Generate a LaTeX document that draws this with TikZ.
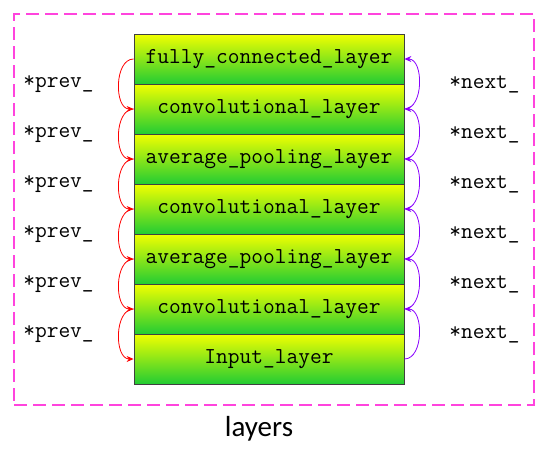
\documentclass[tikz,border=0pt]{standalone}
\usepackage{fontspec}
\setmonofont{Latin Modern Mono}
\newfontfamily\titlefont{Carlito}
\usetikzlibrary{arrows.meta}
\definecolor{topyel}{HTML}{F2FF00}
\definecolor{botgrn}{HTML}{22CC33}
\definecolor{frame}{HTML}{FF44DD}
\definecolor{edge}{HTML}{404040}
\definecolor{prevc}{HTML}{FF0000}
\definecolor{nextc}{HTML}{8800FF}
\tikzset{
  layerbox/.style={draw=edge, line width=0.8pt, top color=topyel, bottom color=botgrn,
    minimum width=270pt, minimum height=50pt, inner sep=0pt, font=\ttfamily\fontsize{22.8}{26}\selectfont},
  ptrlabel/.style={font=\ttfamily\fontsize{22.8}{26}\selectfont, inner sep=0pt},
  prevarrow/.style={draw=prevc, line width=0.8pt, -{Stealth[length=7pt,width=6pt]}},
  nextarrow/.style={draw=nextc, line width=0.8pt, -{Stealth[length=7pt,width=6pt]}},
}
\begin{document}
\begin{tikzpicture}[x=1pt,y=-1pt]
\useasboundingbox (0,0) rectangle (556,450);
\node[draw=frame, line width=1.6pt, dash pattern=on 13pt off 6pt, minimum width=520pt, minimum height=391pt, inner sep=0pt] (frm) at (274,209.5) {};
\node[layerbox] (b1) at (269,59) {fully\_connected\_layer};
\node[layerbox] (b2) at (269,109) {convolutional\_layer};
\node[layerbox] (b3) at (269,159) {average\_pooling\_layer};
\node[layerbox] (b4) at (269,209) {convolutional\_layer};
\node[layerbox] (b5) at (269,259) {average\_pooling\_layer};
\node[layerbox] (b6) at (269,309) {convolutional\_layer};
\node[layerbox] (b7) at (269,359) {Input\_layer};
\foreach \a/\b in {b1/b2,b2/b3,b3/b4,b4/b5,b5/b6,b6/b7}{
  \draw[prevarrow] (\a.west) to[out=180,in=180,looseness=1] (\b.west);
  \draw[nextarrow] (\b.east) to[out=0,in=0,looseness=1] (\a.east);
}
\node[ptrlabel] (p1) at (58.5,84) {*prev\_};
\node[ptrlabel] (p2) at (58.5,134) {*prev\_};
\node[ptrlabel] (p3) at (58.5,184) {*prev\_};
\node[ptrlabel] (p4) at (58.5,234) {*prev\_};
\node[ptrlabel] (p5) at (58.5,284) {*prev\_};
\node[ptrlabel] (p6) at (58.5,334) {*prev\_};
\node[ptrlabel] (n1) at (484.5,84) {*next\_};
\node[ptrlabel] (n2) at (484.5,134) {*next\_};
\node[ptrlabel] (n3) at (484.5,184) {*next\_};
\node[ptrlabel] (n4) at (484.5,234) {*next\_};
\node[ptrlabel] (n5) at (484.5,284) {*next\_};
\node[ptrlabel] (n6) at (484.5,334) {*next\_};
\node[font=\titlefont\fontsize{29}{34}\selectfont, inner sep=0pt] (ttl) at (259,429) {layers};
\end{tikzpicture}
\end{document}
